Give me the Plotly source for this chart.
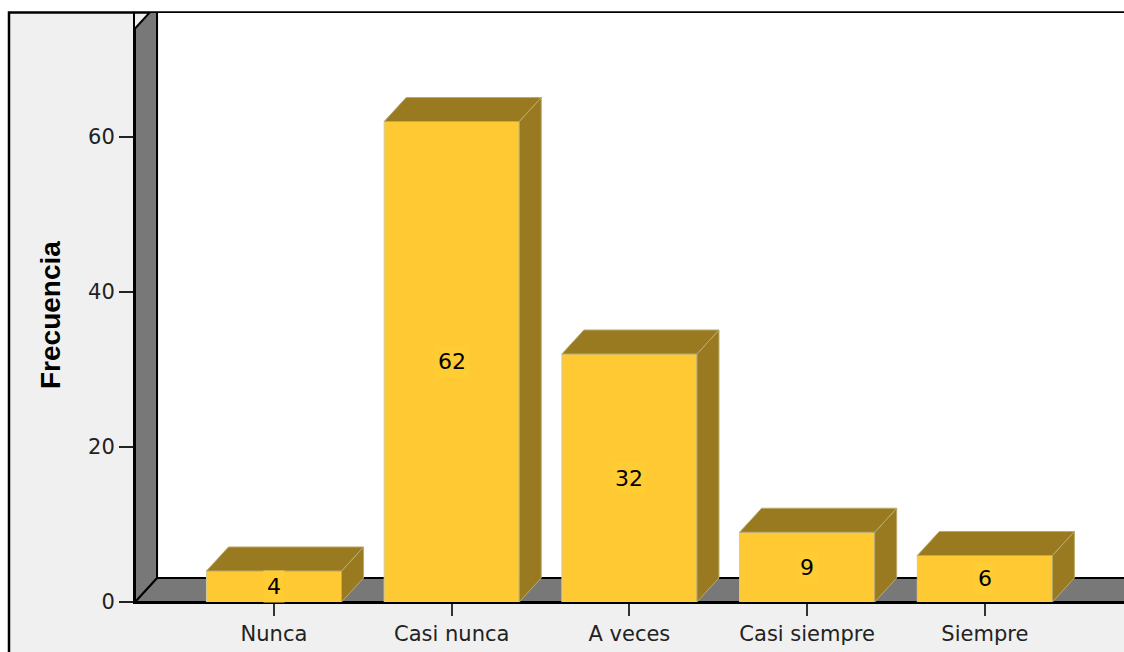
import plotly.graph_objects as go

# ---- data ----
categories = ["Nunca", "Casi nunca", "A veces", "Casi siempre", "Siempre"]
values = [4, 62, 32, 9, 6]
y_ticks = [0, 20, 40, 60]
y_title = "Frecuencia"

# ---- layout constants (styling / geometry) ----
W, H = 1124, 652
ML, MR, MT, MB = 135, 0, 13, 50
X_MIN, X_MAX = -0.782, 4.783
Y_MAX = 76
AXIS_TOP = 74          # top of the front edge of the left wall
DX, DY = 0.124, 3.1    # 3D depth offset in data units
HALF = 0.38            # half bar width
FRONT = "#FFC933"
DARK = "#9A7A21"
WALL = "#787878"
BG = "#F0F0F0"
FONT = "DejaVu Sans"
PH = H - MT - MB       # plot height in px

fig = go.Figure()

idx = list(range(len(categories)))

# 3D side and top faces of bars
for i, v in zip(idx, values):
    fig.add_trace(go.Scatter(
        x=[i + HALF, i + HALF + DX, i + HALF + DX, i + HALF, i + HALF],
        y=[0, DY, v + DY, v, 0],
        mode="lines", fill="toself", fillcolor=DARK,
        line=dict(color="#B9AB6A", width=1), hoverinfo="skip", showlegend=False))
    fig.add_trace(go.Scatter(
        x=[i - HALF, i - HALF + DX, i + HALF + DX, i + HALF, i - HALF],
        y=[v, v + DY, v + DY, v, v],
        mode="lines", fill="toself", fillcolor=DARK,
        line=dict(color="#B9AB6A", width=1), hoverinfo="skip", showlegend=False))

# front faces
fig.add_trace(go.Bar(
    x=idx, y=values, width=2 * HALF,
    marker=dict(color=FRONT, line=dict(color="#D6CC96", width=1)),
    hoverinfo="skip", showlegend=False))

far = X_MAX + 1
shapes = [
    # frame
    dict(type="rect", xref="paper", yref="paper",
         x0=(9 - ML) / (W - ML - MR), x1=1.05, y0=-0.3, y1=1.0 + 0.5 / PH,
         fillcolor=BG, line=dict(color="black", width=2.5), layer="below"),
    # back wall
    dict(type="path", xref="x", yref="y",
         path=f"M {X_MIN+DX},{DY} L {far},{DY} L {far},{Y_MAX+10} L {X_MIN+DX},{Y_MAX+10} Z",
         fillcolor="white", line=dict(color="#C8C8C8", width=1), layer="below"),
    # floor
    dict(type="path", xref="x", yref="y",
         path=f"M {X_MIN},0 L {far},0 L {far},{DY} L {X_MIN+DX},{DY} Z",
         fillcolor=WALL, line=dict(color="black", width=2), layer="below"),
    # left wall
    dict(type="path", xref="x", yref="y",
         path=f"M {X_MIN},0 L {X_MIN},{AXIS_TOP} L {X_MIN+DX},{AXIS_TOP+DY} L {X_MIN+DX},{DY} Z",
         fillcolor=WALL, line=dict(color="black", width=2), layer="below"),
]

annotations = [
    dict(x=i, y=v / 2, xref="x", yref="y", text=str(v), showarrow=False,
         font=dict(family=FONT, size=22, color="black"),
         bgcolor="#FFCC33", borderpad=3)
    for i, v in zip(idx, values)
]
annotations.append(dict(
    x=(50 - ML) / (W - ML - MR), y=(602 - 315) / PH,
    xref="paper", yref="paper", xanchor="center", yanchor="middle",
    text=f"<b>{y_title}</b>", textangle=-90,
    showarrow=False, font=dict(family="Liberation Sans", size=28, color="black")))

fig.update_layout(
    width=W, height=H,
    margin=dict(l=ML, r=MR, t=MT, b=MB),
    paper_bgcolor="white", plot_bgcolor=BG,
    shapes=shapes, annotations=annotations,
    xaxis=dict(range=[X_MIN, X_MAX], tickvals=idx, ticktext=categories,
               showgrid=False, zeroline=False, showline=True, linecolor="black", linewidth=2,
               ticks="outside", ticklen=12, tickwidth=2, tickcolor="#333333",
               tickfont=dict(family=FONT, size=21, color="#222222"), fixedrange=True),
    yaxis=dict(range=[0, Y_MAX], tickvals=y_ticks, showgrid=False, zeroline=False,
               showline=True, linecolor="black", linewidth=2,
               ticks="outside", ticklen=14, tickwidth=2, tickcolor="#222222",
               tickfont=dict(family=FONT, size=21, color="#222222"), fixedrange=True),
)

fig.write_html("out.html", config={"displayModeBar": False},
               post_script="document.body.style.margin='0';document.body.style.overflow='hidden';")
